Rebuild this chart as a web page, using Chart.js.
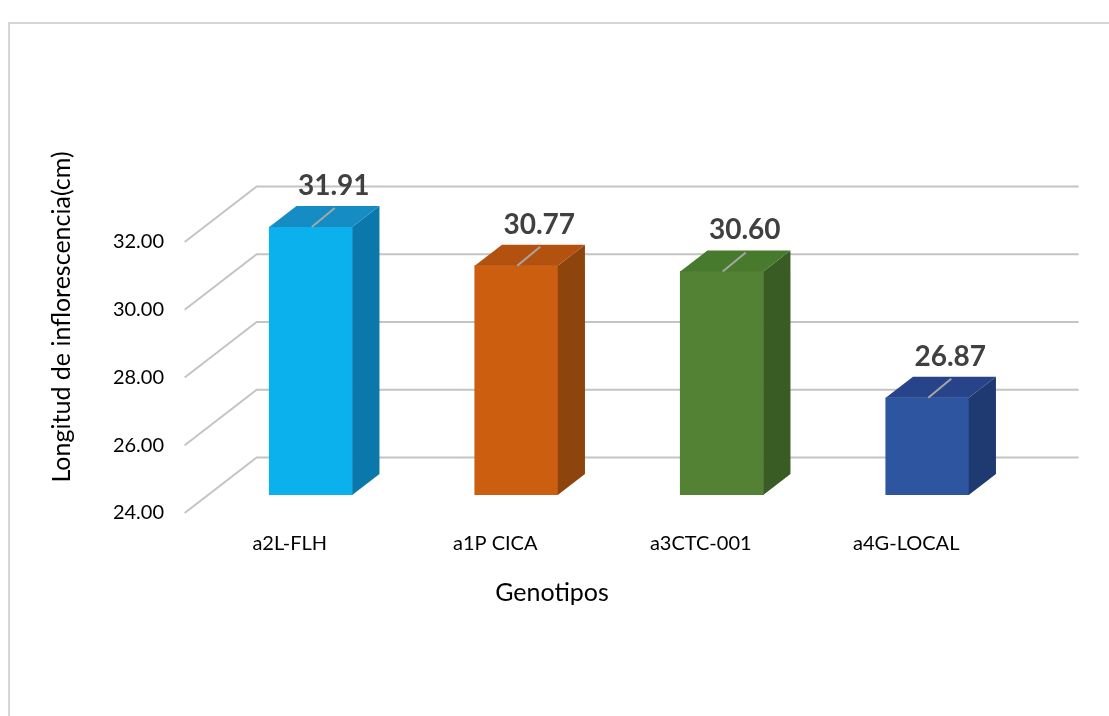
<!DOCTYPE html>
<html>
<head>
<meta charset="utf-8">
<script src="https://cdn.jsdelivr.net/npm/chart.js@4"></script>
<style>
body { margin: 0; background: #fff; }
canvas { display: block; }
</style>
</head>
<body>
<canvas id="grafico" width="1109" height="716"></canvas>
<script>
var genotipos = ['a2L-FLH', 'a1P CICA', 'a3CTC-001', 'a4G-LOCAL'];
var longitud = [31.91, 30.77, 30.60, 26.87];
var yMin = 24, yMax = 32, yPaso = 2;

// colores de cada barra: frente, lado, tapa
var frentes = ['#0ab1ec', '#cc5e10', '#548235', '#2e55a0'];
var lados = ['#0a78aa', '#8e440d', '#395c24', '#1f3a70'];
var tapas = ['#168cc4', '#b3520e', '#487a2d', '#27438a'];

// profundidad 3D (pixeles para toda la base)
var DX = 72, DY = 55.5;
var pFondo = 0.676, pSuelo = -0.324, pBarra = 0.378;

var efecto3d = {
    id: 'efecto3d',
    beforeDraw: function (chart) {
        var ctx = chart.ctx;
        ctx.save();
        ctx.strokeStyle = '#d6d6d6';
        ctx.lineWidth = 2;
        ctx.strokeRect(9, 23, 1300, 900);
        ctx.restore();
    },
    beforeDatasetsDraw: function (chart) {
        var ctx = chart.ctx;
        var area = chart.chartArea;
        var y = chart.scales.y;
        ctx.save();
        ctx.strokeStyle = '#c4c4c4';
        ctx.lineWidth = 2;
        y.ticks.forEach(function (t) {
            var py = y.getPixelForValue(t.value);
            ctx.beginPath();
            ctx.moveTo(area.left + pSuelo * DX, py - pSuelo * DY);
            ctx.lineTo(area.left + pFondo * DX, py - pFondo * DY);
            ctx.lineTo(area.right + pFondo * DX, py - pFondo * DY);
            ctx.stroke();
        });
        ctx.restore();
    },
    afterDatasetsDraw: function (chart) {
        var ctx = chart.ctx;
        var meta = chart.getDatasetMeta(0);
        var base = chart.scales.y.getPixelForValue(yMin);
        var ox = pBarra * DX, oy = pBarra * DY;
        ctx.save();
        meta.data.forEach(function (bar, i) {
            var p = bar.getProps(['x', 'y', 'width'], true);
            var l = p.x - p.width / 2, r = p.x + p.width / 2;
            ctx.fillStyle = lados[i];
            ctx.beginPath();
            ctx.moveTo(r, p.y);
            ctx.lineTo(r + ox, p.y - oy);
            ctx.lineTo(r + ox, base - oy);
            ctx.lineTo(r, base);
            ctx.closePath();
            ctx.fill();
            ctx.fillStyle = tapas[i];
            ctx.beginPath();
            ctx.moveTo(l, p.y);
            ctx.lineTo(l + ox, p.y - oy);
            ctx.lineTo(r + ox, p.y - oy);
            ctx.lineTo(r, p.y);
            ctx.closePath();
            ctx.fill();

            ctx.strokeStyle = '#a6a6a6';
            ctx.lineWidth = 2;
            ctx.beginPath();
            ctx.moveTo(p.x + 1, p.y);
            ctx.lineTo(p.x + 24, p.y - 19);
            ctx.stroke();

            ctx.fillStyle = '#404040';
            ctx.font = 'bold 28px Lato';
            ctx.textAlign = 'center';
            ctx.textBaseline = 'middle';
            ctx.fillText(longitud[i].toFixed(2), p.x + 23, p.y - 41);
        });
        ctx.restore();
    },
    afterDraw: function (chart) {
        var ctx = chart.ctx;
        ctx.save();
        ctx.fillStyle = '#000';
        ctx.font = '25px Lato';
        ctx.textAlign = 'center';
        ctx.textBaseline = 'middle';
        ctx.fillText('Genotipos', 552, 593);
        ctx.translate(62, 317);
        ctx.rotate(-Math.PI / 2);
        ctx.fillText('Longitud de inflorescencia(cm)', 0, 0);
        ctx.restore();
    }
};

Chart.defaults.font.family = 'Lato';
Chart.defaults.color = '#000';

new Chart(document.getElementById('grafico'), {
    type: 'bar',
    data: {
        labels: genotipos,
        datasets: [{
            data: longitud,
            backgroundColor: frentes,
            borderWidth: 0,
            barThickness: 83
        }]
    },
    options: {
        responsive: false,
        animation: false,
        layout: {
            padding: { top: 224, right: 79, bottom: 0, left: 0 }
        },
        scales: {
            x: {
                grid: { display: false, drawTicks: false },
                border: { display: false },
                ticks: { font: { size: 20 }, padding: 37, labelOffset: -21 },
                afterFit: function (s) { s.height = 221; }
            },
            y: {
                min: yMin,
                max: yMax,
                grid: { display: false, drawTicks: false },
                border: { display: false },
                ticks: {
                    stepSize: yPaso,
                    font: { size: 20 },
                    padding: 44,
                    labelOffset: 18,
                    callback: function (v) { return v.toFixed(2); }
                },
                afterFit: function (s) { s.width = 208; }
            }
        },
        plugins: {
            legend: { display: false },
            tooltip: { enabled: false }
        }
    },
    plugins: [efecto3d]
});
</script>
</body>
</html>
